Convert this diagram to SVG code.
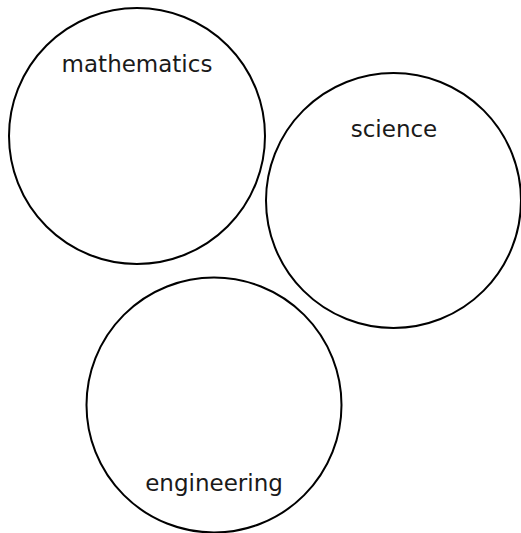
<svg xmlns="http://www.w3.org/2000/svg" width="521" height="533" viewBox="0 0 521 533">
<style>
.c{fill:none;stroke:#000;stroke-width:2}
.t{font-family:"DejaVu Sans",sans-serif;font-size:23px;fill:#1a1a1a;text-anchor:middle}
</style>
<rect width="521" height="533" fill="#fff"/>
<g id="mathematics"><circle class="c" cx="137" cy="136" r="128"/><text class="t" x="137" y="72">mathematics</text></g>
<g id="science"><circle class="c" cx="393.5" cy="200.5" r="127.5"/><text class="t" x="394" y="137">science</text></g>
<g id="engineering"><circle class="c" cx="214" cy="405" r="127.5"/><text class="t" x="214" y="491">engineering</text></g>
<g id="connectors"></g>
</svg>
